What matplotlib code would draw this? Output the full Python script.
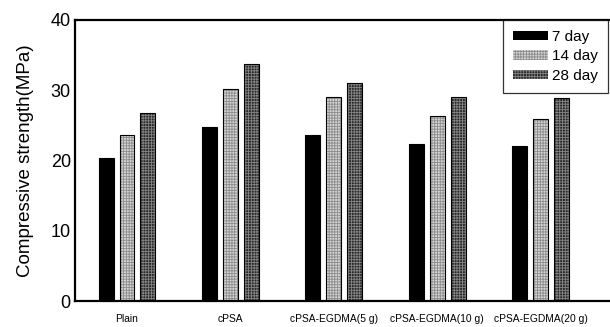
import matplotlib
matplotlib.use("Agg")
import matplotlib.pyplot as plt
from matplotlib import font_manager
import numpy as np

categories = ["Plain", "cPSA", "cPSA-EGDMA(5 g)", "cPSA-EGDMA(10 g)", "cPSA-EGDMA(20 g)"]
series_names = ["7 day", "14 day", "28 day"]
day7 = [20.4, 24.7, 23.6, 22.4, 22.0]
day14 = [23.6, 30.2, 29.0, 26.3, 25.9]
day28 = [26.8, 33.7, 31.1, 29.1, 28.9]
y_ticks = [0, 10, 20, 30, 40]

plt.rcParams["font.family"] = ["Liberation Sans", "DejaVu Sans"]
plt.rcParams["hatch.linewidth"] = 0.6

# pick a narrow face for the category labels, if one is installed
installed = {f.name for f in font_manager.fontManager.ttflist}
narrow = [n for n in ["Liberation Sans Narrow", "DejaVu Sans Condensed"] if n in installed]

fig = plt.figure(figsize=(6.10, 3.27), dpi=100)
ax = fig.add_axes([75 / 610, 26 / 327, 534 / 610, 281 / 327])

x = np.arange(len(categories))
width = 0.145
step = 0.203

styles = [
    dict(facecolor="#000000", hatch=None, hcolor="#000000"),
    dict(facecolor="#d4d4d4", hatch="++++++", hcolor="#8c8c8c"),
    dict(facecolor="#2a2a2a", hatch="++++++", hcolor="#858585"),
]

for i, (vals, name, st) in enumerate(zip([day7, day14, day28], series_names, styles)):
    pos = x + (i - 1) * step
    ax.bar(pos, vals, width, color=st["facecolor"], edgecolor=st["hcolor"],
           hatch=st["hatch"], linewidth=0, label=name, zorder=2)
    ax.bar(pos, vals, width, fill=False, edgecolor="#000000", linewidth=0.8, zorder=3)

ax.set_xlim(-0.503, 4.662)
ax.set_ylim(0, 40)
ax.set_yticks(y_ticks)
ax.set_yticklabels([str(t) for t in y_ticks], fontsize=13)
ax.set_xticks(x)
if narrow:
    ax.set_xticklabels(categories, fontsize=8.5, family=narrow[0])
else:
    ax.set_xticklabels(categories, fontsize=7.4)
ax.tick_params(axis="both", length=0)
ax.tick_params(axis="x", pad=9)
ax.tick_params(axis="y", pad=3)

for side in ["left", "bottom", "top"]:
    ax.spines[side].set_linewidth(1.6)
ax.spines["right"].set_visible(False)

ax.set_ylabel("Compressive strength(MPa)", fontsize=13.5, labelpad=12)

leg = ax.legend(loc="upper right", bbox_to_anchor=(0.998, 1.0), borderaxespad=0,
                fontsize=11, frameon=True, fancybox=False, edgecolor="#000000",
                handlelength=2.3, handleheight=0.55, handletextpad=0.25,
                labelspacing=0.36, borderpad=0.65)
leg.get_frame().set_linewidth(0.9)
leg.set_zorder(5)

fig.savefig("out.png", dpi=100)
